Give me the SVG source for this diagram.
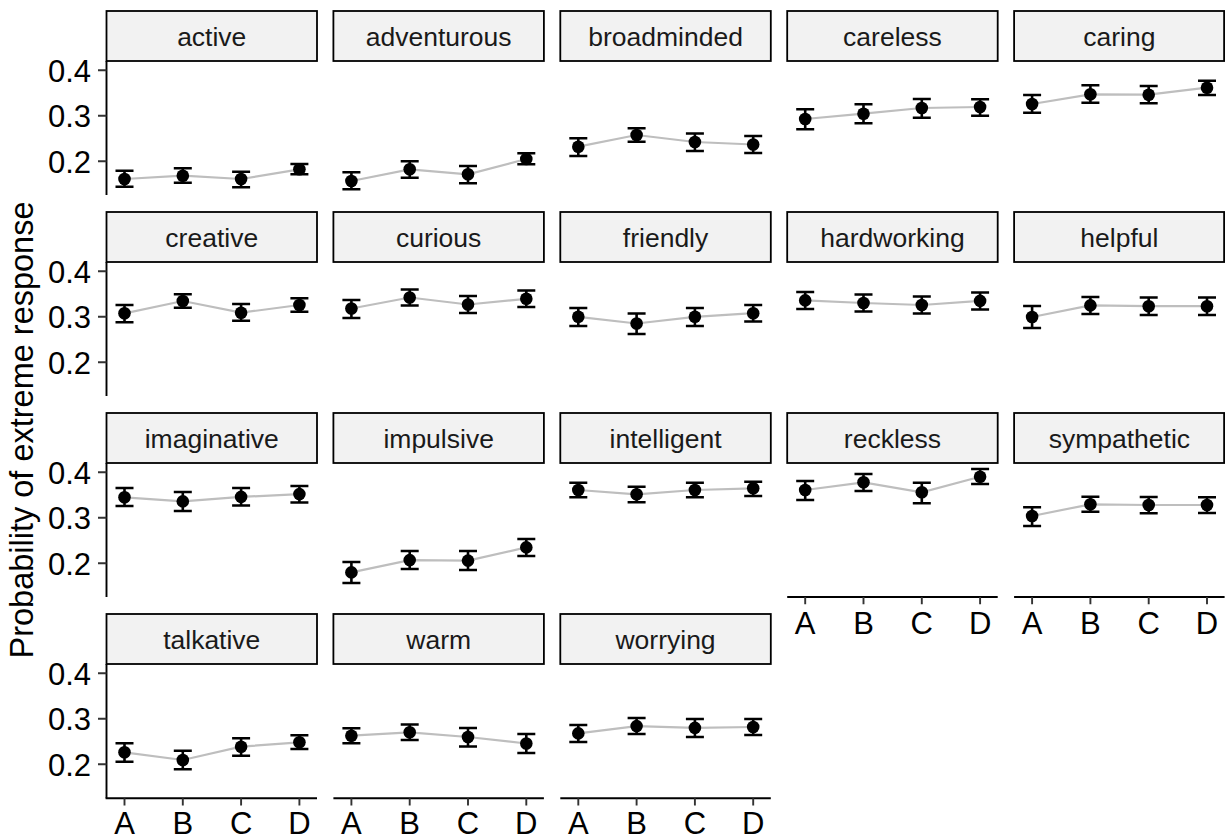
<svg xmlns="http://www.w3.org/2000/svg" width="1225" height="837" viewBox="0 0 1225 837">
  <style>
    text { font-family: "Liberation Sans", Arial, Helvetica, sans-serif; }
    .strip rect { fill: #F2F2F2; stroke: #000; stroke-width: 1.8; }
    .strip text { font-size: 26.5px; fill: #1A1A1A; text-anchor: middle; }
    .trend { fill: none; stroke: #BEBEBE; stroke-width: 2.2; }
    .err { fill: none; stroke: #000; stroke-width: 2.6; }
    .pt { fill: #000; }
    .axis { fill: none; stroke: #000; stroke-width: 1.9; }
    .tick { fill: none; stroke: #333; stroke-width: 1.9; }
    .ylab { font-size: 31px; fill: #000; text-anchor: end; }
    .xlab { font-size: 31px; fill: #000; text-anchor: middle; }
    .title { font-size: 32.5px; fill: #000; text-anchor: middle; }
  </style>

  <!-- shared y-axis title -->
  <text class="title" transform="translate(33,430) rotate(-90)">Probability of extreme response</text>

  <!-- y axes (first column only) -->
  <g id="y-axes">
    <path class="axis" d="M106.5 61 V195 M106.5 262 V396 M106.5 463 V597 M106.5 664 V798.3"/>
    <path class="tick" d="M98 70.3 H106.5 M98 115.8 H106.5 M98 161.3 H106.5
                          M98 271.3 H106.5 M98 316.8 H106.5 M98 362.3 H106.5
                          M98 472.3 H106.5 M98 517.8 H106.5 M98 563.3 H106.5
                          M98 673.3 H106.5 M98 718.8 H106.5 M98 764.3 H106.5"/>
    <text class="ylab" x="91" y="81.5">0.4</text>
    <text class="ylab" x="91" y="127">0.3</text>
    <text class="ylab" x="91" y="172.5">0.2</text>
    <text class="ylab" x="91" y="282.5">0.4</text>
    <text class="ylab" x="91" y="328">0.3</text>
    <text class="ylab" x="91" y="373.5">0.2</text>
    <text class="ylab" x="91" y="483.5">0.4</text>
    <text class="ylab" x="91" y="529">0.3</text>
    <text class="ylab" x="91" y="574.5">0.2</text>
    <text class="ylab" x="91" y="684.5">0.4</text>
    <text class="ylab" x="91" y="730">0.3</text>
    <text class="ylab" x="91" y="775.5">0.2</text>
  </g>

  <!-- x axes (bottom panel of each column) -->
  <g id="x-axes">
    <path class="axis" d="M105.6 798.3 H317 M333.4 798.3 H543.9 M560.3 798.3 H770.8 M787.2 597 H997.7 M1014.1 597 H1224.6"/>
    <path class="tick" d="M124.5 798.3 V805.5 M182.8 798.3 V805.5 M241.1 798.3 V805.5 M299.4 798.3 V805.5
                          M351.4 798.3 V805.5 M409.7 798.3 V805.5 M468 798.3 V805.5 M526.3 798.3 V805.5
                          M578.3 798.3 V805.5 M636.6 798.3 V805.5 M694.9 798.3 V805.5 M753.2 798.3 V805.5
                          M805.2 597 V604.2 M863.5 597 V604.2 M921.8 597 V604.2 M980.1 597 V604.2
                          M1032.1 597 V604.2 M1090.4 597 V604.2 M1148.7 597 V604.2 M1207 597 V604.2"/>
    <text class="xlab" x="124.5" y="834">A</text><text class="xlab" x="182.8" y="834">B</text><text class="xlab" x="241.1" y="834">C</text><text class="xlab" x="299.4" y="834">D</text>
    <text class="xlab" x="351.4" y="834">A</text><text class="xlab" x="409.7" y="834">B</text><text class="xlab" x="468" y="834">C</text><text class="xlab" x="526.3" y="834">D</text>
    <text class="xlab" x="578.3" y="834">A</text><text class="xlab" x="636.6" y="834">B</text><text class="xlab" x="694.9" y="834">C</text><text class="xlab" x="753.2" y="834">D</text>
    <text class="xlab" x="805.2" y="633.5">A</text><text class="xlab" x="863.5" y="633.5">B</text><text class="xlab" x="921.8" y="633.5">C</text><text class="xlab" x="980.1" y="633.5">D</text>
    <text class="xlab" x="1032.1" y="633.5">A</text><text class="xlab" x="1090.4" y="633.5">B</text><text class="xlab" x="1148.7" y="633.5">C</text><text class="xlab" x="1207" y="633.5">D</text>
  </g>

  <!-- row 1 -->
  <g id="panel-active">
    <g class="strip"><rect x="106.5" y="11" width="210.5" height="50"/><text x="211.75" y="46">active</text></g>
    <polyline class="trend" points="124.5,179 182.8,175.7 241.1,179 299.4,169.3"/>
    <path class="err" d="M115.5 170.7 H133.5 M124.5 170.7 V186.7 M115.5 186.7 H133.5
                         M173.8 168.3 H191.8 M182.8 168.3 V182.7 M173.8 182.7 H191.8
                         M232.1 171.7 H250.1 M241.1 171.7 V187.3 M232.1 187.3 H250.1
                         M290.4 164 H308.4 M299.4 164 V174.3 M290.4 174.3 H308.4"/>
    <circle class="pt" cx="124.5" cy="179" r="6.3"/><circle class="pt" cx="182.8" cy="175.7" r="6.3"/><circle class="pt" cx="241.1" cy="179" r="6.3"/><circle class="pt" cx="299.4" cy="169.3" r="6.3"/>
  </g>
  <g id="panel-adventurous">
    <g class="strip"><rect x="333.4" y="11" width="210.5" height="50"/><text x="438.65" y="46">adventurous</text></g>
    <polyline class="trend" points="351.4,181 409.7,169.3 468,174.3 526.3,159"/>
    <path class="err" d="M342.4 172.3 H360.4 M351.4 172.3 V189.3 M342.4 189.3 H360.4
                         M400.7 161.3 H418.7 M409.7 161.3 V177.7 M400.7 177.7 H418.7
                         M459 166 H477 M468 166 V183.3 M459 183.3 H477
                         M517.3 153.3 H535.3 M526.3 153.3 V164.3 M517.3 164.3 H535.3"/>
    <circle class="pt" cx="351.4" cy="181" r="6.3"/><circle class="pt" cx="409.7" cy="169.3" r="6.3"/><circle class="pt" cx="468" cy="174.3" r="6.3"/><circle class="pt" cx="526.3" cy="159" r="6.3"/>
  </g>
  <g id="panel-broadminded">
    <g class="strip"><rect x="560.3" y="11" width="210.5" height="50"/><text x="665.55" y="46">broadminded</text></g>
    <polyline class="trend" points="578.3,146.7 636.6,135 694.9,142 753.2,144.5"/>
    <path class="err" d="M569.3 138.3 H587.3 M578.3 138.3 V156 M569.3 156 H587.3
                         M627.6 128.3 H645.6 M636.6 128.3 V141.7 M627.6 141.7 H645.6
                         M685.9 133.5 H703.9 M694.9 133.5 V151 M685.9 151 H703.9
                         M744.2 136 H762.2 M753.2 136 V153 M744.2 153 H762.2"/>
    <circle class="pt" cx="578.3" cy="146.7" r="6.3"/><circle class="pt" cx="636.6" cy="135" r="6.3"/><circle class="pt" cx="694.9" cy="142" r="6.3"/><circle class="pt" cx="753.2" cy="144.5" r="6.3"/>
  </g>
  <g id="panel-careless">
    <g class="strip"><rect x="787.2" y="11" width="210.5" height="50"/><text x="892.45" y="46">careless</text></g>
    <polyline class="trend" points="805.2,119 863.5,113.7 921.8,108 980.1,107"/>
    <path class="err" d="M796.2 109.3 H814.2 M805.2 109.3 V129.3 M796.2 129.3 H814.2
                         M854.5 104.3 H872.5 M863.5 104.3 V123.3 M854.5 123.3 H872.5
                         M912.8 99 H930.8 M921.8 99 V117.7 M912.8 117.7 H930.8
                         M971.1 99.3 H989.1 M980.1 99.3 V115.7 M971.1 115.7 H989.1"/>
    <circle class="pt" cx="805.2" cy="119" r="6.3"/><circle class="pt" cx="863.5" cy="113.7" r="6.3"/><circle class="pt" cx="921.8" cy="108" r="6.3"/><circle class="pt" cx="980.1" cy="107" r="6.3"/>
  </g>
  <g id="panel-caring">
    <g class="strip"><rect x="1014.1" y="11" width="210" height="50"/><text x="1119.35" y="46">caring</text></g>
    <polyline class="trend" points="1032.1,104 1090.4,94.3 1148.7,94.7 1207,87.7"/>
    <path class="err" d="M1023.1 95 H1041.1 M1032.1 95 V112.7 M1023.1 112.7 H1041.1
                         M1081.4 85.3 H1099.4 M1090.4 85.3 V102.7 M1081.4 102.7 H1099.4
                         M1139.7 86 H1157.7 M1148.7 86 V103.3 M1139.7 103.3 H1157.7
                         M1198 80.7 H1216 M1207 80.7 V95 M1198 95 H1216"/>
    <circle class="pt" cx="1032.1" cy="104" r="6.3"/><circle class="pt" cx="1090.4" cy="94.3" r="6.3"/><circle class="pt" cx="1148.7" cy="94.7" r="6.3"/><circle class="pt" cx="1207" cy="87.7" r="6.3"/>
  </g>

  <!-- row 2 -->
  <g id="panel-creative">
    <g class="strip"><rect x="106.5" y="212" width="210.5" height="50"/><text x="211.75" y="247">creative</text></g>
    <polyline class="trend" points="124.5,313.3 182.8,301 241.1,312.7 299.4,305"/>
    <path class="err" d="M115.5 305 H133.5 M124.5 305 V322.3 M115.5 322.3 H133.5
                         M173.8 294.3 H191.8 M182.8 294.3 V307.7 M173.8 307.7 H191.8
                         M232.1 304 H250.1 M241.1 304 V320.7 M232.1 320.7 H250.1
                         M290.4 298.3 H308.4 M299.4 298.3 V311.7 M290.4 311.7 H308.4"/>
    <circle class="pt" cx="124.5" cy="313.3" r="6.3"/><circle class="pt" cx="182.8" cy="301" r="6.3"/><circle class="pt" cx="241.1" cy="312.7" r="6.3"/><circle class="pt" cx="299.4" cy="305" r="6.3"/>
  </g>
  <g id="panel-curious">
    <g class="strip"><rect x="333.4" y="212" width="210.5" height="50"/><text x="438.65" y="247">curious</text></g>
    <polyline class="trend" points="351.4,308.5 409.7,297.5 468,304.5 526.3,298.8"/>
    <path class="err" d="M342.4 300 H360.4 M351.4 300 V318 M342.4 318 H360.4
                         M400.7 289.5 H418.7 M409.7 289.5 V305.5 M400.7 305.5 H418.7
                         M459 296 H477 M468 296 V313 M459 313 H477
                         M517.3 290.5 H535.3 M526.3 290.5 V307 M517.3 307 H535.3"/>
    <circle class="pt" cx="351.4" cy="308.5" r="6.3"/><circle class="pt" cx="409.7" cy="297.5" r="6.3"/><circle class="pt" cx="468" cy="304.5" r="6.3"/><circle class="pt" cx="526.3" cy="298.8" r="6.3"/>
  </g>
  <g id="panel-friendly">
    <g class="strip"><rect x="560.3" y="212" width="210.5" height="50"/><text x="665.55" y="247">friendly</text></g>
    <polyline class="trend" points="578.3,316.8 636.6,323.5 694.9,316.8 753.2,313.2"/>
    <path class="err" d="M569.3 308 H587.3 M578.3 308 V326 M569.3 326 H587.3
                         M627.6 313.5 H645.6 M636.6 313.5 V334 M627.6 334 H645.6
                         M685.9 308 H703.9 M694.9 308 V326 M685.9 326 H703.9
                         M744.2 305 H762.2 M753.2 305 V321.5 M744.2 321.5 H762.2"/>
    <circle class="pt" cx="578.3" cy="316.8" r="6.3"/><circle class="pt" cx="636.6" cy="323.5" r="6.3"/><circle class="pt" cx="694.9" cy="316.8" r="6.3"/><circle class="pt" cx="753.2" cy="313.2" r="6.3"/>
  </g>
  <g id="panel-hardworking">
    <g class="strip"><rect x="787.2" y="212" width="210.5" height="50"/><text x="892.45" y="247">hardworking</text></g>
    <polyline class="trend" points="805.2,300.4 863.5,303 921.8,305 980.1,300.9"/>
    <path class="err" d="M796.2 292 H814.2 M805.2 292 V309 M796.2 309 H814.2
                         M854.5 294.5 H872.5 M863.5 294.5 V311.5 M854.5 311.5 H872.5
                         M912.8 296.5 H930.8 M921.8 296.5 V313.5 M912.8 313.5 H930.8
                         M971.1 292.5 H989.1 M980.1 292.5 V309.5 M971.1 309.5 H989.1"/>
    <circle class="pt" cx="805.2" cy="300.4" r="6.3"/><circle class="pt" cx="863.5" cy="303" r="6.3"/><circle class="pt" cx="921.8" cy="305" r="6.3"/><circle class="pt" cx="980.1" cy="300.9" r="6.3"/>
  </g>
  <g id="panel-helpful">
    <g class="strip"><rect x="1014.1" y="212" width="210" height="50"/><text x="1119.35" y="247">helpful</text></g>
    <polyline class="trend" points="1032.1,317 1090.4,305.4 1148.7,306.2 1207,306.2"/>
    <path class="err" d="M1023.1 306 H1041.1 M1032.1 306 V328 M1023.1 328 H1041.1
                         M1081.4 297 H1099.4 M1090.4 297 V314 M1081.4 314 H1099.4
                         M1139.7 297.5 H1157.7 M1148.7 297.5 V315 M1139.7 315 H1157.7
                         M1198 297.5 H1216 M1207 297.5 V315 M1198 315 H1216"/>
    <circle class="pt" cx="1032.1" cy="317" r="6.3"/><circle class="pt" cx="1090.4" cy="305.4" r="6.3"/><circle class="pt" cx="1148.7" cy="306.2" r="6.3"/><circle class="pt" cx="1207" cy="306.2" r="6.3"/>
  </g>

  <!-- row 3 -->
  <g id="panel-imaginative">
    <g class="strip"><rect x="106.5" y="413" width="210.5" height="50"/><text x="211.75" y="448">imaginative</text></g>
    <polyline class="trend" points="124.5,497.3 182.8,501.4 241.1,496.9 299.4,494.1"/>
    <path class="err" d="M115.5 488 H133.5 M124.5 488 V506 M115.5 506 H133.5
                         M173.8 492 H191.8 M182.8 492 V511 M173.8 511 H191.8
                         M232.1 488 H250.1 M241.1 488 V505.5 M232.1 505.5 H250.1
                         M290.4 486 H308.4 M299.4 486 V502.5 M290.4 502.5 H308.4"/>
    <circle class="pt" cx="124.5" cy="497.3" r="6.3"/><circle class="pt" cx="182.8" cy="501.4" r="6.3"/><circle class="pt" cx="241.1" cy="496.9" r="6.3"/><circle class="pt" cx="299.4" cy="494.1" r="6.3"/>
  </g>
  <g id="panel-impulsive">
    <g class="strip"><rect x="333.4" y="413" width="210.5" height="50"/><text x="438.65" y="448">impulsive</text></g>
    <polyline class="trend" points="351.4,572.4 409.7,560.1 468,560.6 526.3,547.4"/>
    <path class="err" d="M342.4 562 H360.4 M351.4 562 V583 M342.4 583 H360.4
                         M400.7 551 H418.7 M409.7 551 V569 M400.7 569 H418.7
                         M459 551 H477 M468 551 V570 M459 570 H477
                         M517.3 539 H535.3 M526.3 539 V556 M517.3 556 H535.3"/>
    <circle class="pt" cx="351.4" cy="572.4" r="6.3"/><circle class="pt" cx="409.7" cy="560.1" r="6.3"/><circle class="pt" cx="468" cy="560.6" r="6.3"/><circle class="pt" cx="526.3" cy="547.4" r="6.3"/>
  </g>
  <g id="panel-intelligent">
    <g class="strip"><rect x="560.3" y="413" width="210.5" height="50"/><text x="665.55" y="448">intelligent</text></g>
    <polyline class="trend" points="578.3,490 636.6,494.3 694.9,490 753.2,488.3"/>
    <path class="err" d="M569.3 482.7 H587.3 M578.3 482.7 V497.3 M569.3 497.3 H587.3
                         M627.6 486.7 H645.6 M636.6 486.7 V502.3 M627.6 502.3 H645.6
                         M685.9 482.7 H703.9 M694.9 482.7 V497.3 M685.9 497.3 H703.9
                         M744.2 481.7 H762.2 M753.2 481.7 V496 M744.2 496 H762.2"/>
    <circle class="pt" cx="578.3" cy="490" r="6.3"/><circle class="pt" cx="636.6" cy="494.3" r="6.3"/><circle class="pt" cx="694.9" cy="490" r="6.3"/><circle class="pt" cx="753.2" cy="488.3" r="6.3"/>
  </g>
  <g id="panel-reckless">
    <g class="strip"><rect x="787.2" y="413" width="210.5" height="50"/><text x="892.45" y="448">reckless</text></g>
    <polyline class="trend" points="805.2,490 863.5,482.3 921.8,492.3 980.1,476.7"/>
    <path class="err" d="M796.2 481 H814.2 M805.2 481 V500 M796.2 500 H814.2
                         M854.5 474 H872.5 M863.5 474 V491 M854.5 491 H872.5
                         M912.8 482.7 H930.8 M921.8 482.7 V503.3 M912.8 503.3 H930.8
                         M971.1 469 H989.1 M980.1 469 V484 M971.1 484 H989.1"/>
    <circle class="pt" cx="805.2" cy="490" r="6.3"/><circle class="pt" cx="863.5" cy="482.3" r="6.3"/><circle class="pt" cx="921.8" cy="492.3" r="6.3"/><circle class="pt" cx="980.1" cy="476.7" r="6.3"/>
  </g>
  <g id="panel-sympathetic">
    <g class="strip"><rect x="1014.1" y="413" width="210" height="50"/><text x="1119.35" y="448">sympathetic</text></g>
    <polyline class="trend" points="1032.1,516 1090.4,504.3 1148.7,505 1207,505"/>
    <path class="err" d="M1023.1 507.3 H1041.1 M1032.1 507.3 V526 M1023.1 526 H1041.1
                         M1081.4 496.7 H1099.4 M1090.4 496.7 V511.7 M1081.4 511.7 H1099.4
                         M1139.7 497 H1157.7 M1148.7 497 V513.3 M1139.7 513.3 H1157.7
                         M1198 497.3 H1216 M1207 497.3 V513 M1198 513 H1216"/>
    <circle class="pt" cx="1032.1" cy="516" r="6.3"/><circle class="pt" cx="1090.4" cy="504.3" r="6.3"/><circle class="pt" cx="1148.7" cy="505" r="6.3"/><circle class="pt" cx="1207" cy="505" r="6.3"/>
  </g>

  <!-- row 4 -->
  <g id="panel-talkative">
    <g class="strip"><rect x="106.5" y="614" width="210.5" height="50"/><text x="211.75" y="649">talkative</text></g>
    <polyline class="trend" points="124.5,752.3 182.8,760 241.1,746.7 299.4,742.3"/>
    <path class="err" d="M115.5 743.3 H133.5 M124.5 743.3 V761.7 M115.5 761.7 H133.5
                         M173.8 750.7 H191.8 M182.8 750.7 V769.3 M173.8 769.3 H191.8
                         M232.1 738.3 H250.1 M241.1 738.3 V755.7 M232.1 755.7 H250.1
                         M290.4 735.3 H308.4 M299.4 735.3 V749 M290.4 749 H308.4"/>
    <circle class="pt" cx="124.5" cy="752.3" r="6.3"/><circle class="pt" cx="182.8" cy="760" r="6.3"/><circle class="pt" cx="241.1" cy="746.7" r="6.3"/><circle class="pt" cx="299.4" cy="742.3" r="6.3"/>
  </g>
  <g id="panel-warm">
    <g class="strip"><rect x="333.4" y="614" width="210.5" height="50"/><text x="438.65" y="649">warm</text></g>
    <polyline class="trend" points="351.4,735.7 409.7,732.3 468,737 526.3,743.5"/>
    <path class="err" d="M342.4 728.3 H360.4 M351.4 728.3 V743.3 M342.4 743.3 H360.4
                         M400.7 724.5 H418.7 M409.7 724.5 V740 M400.7 740 H418.7
                         M459 728 H477 M468 728 V746.5 M459 746.5 H477
                         M517.3 734 H535.3 M526.3 734 V753 M517.3 753 H535.3"/>
    <circle class="pt" cx="351.4" cy="735.7" r="6.3"/><circle class="pt" cx="409.7" cy="732.3" r="6.3"/><circle class="pt" cx="468" cy="737" r="6.3"/><circle class="pt" cx="526.3" cy="743.5" r="6.3"/>
  </g>
  <g id="panel-worrying">
    <g class="strip"><rect x="560.3" y="614" width="210.5" height="50"/><text x="665.55" y="649">worrying</text></g>
    <polyline class="trend" points="578.3,733.4 636.6,726.1 694.9,727.9 753.2,727"/>
    <path class="err" d="M569.3 725 H587.3 M578.3 725 V742 M569.3 742 H587.3
                         M627.6 718 H645.6 M636.6 718 V734 M627.6 734 H645.6
                         M685.9 719 H703.9 M694.9 719 V737 M685.9 737 H703.9
                         M744.2 719 H762.2 M753.2 719 V735 M744.2 735 H762.2"/>
    <circle class="pt" cx="578.3" cy="733.4" r="6.3"/><circle class="pt" cx="636.6" cy="726.1" r="6.3"/><circle class="pt" cx="694.9" cy="727.9" r="6.3"/><circle class="pt" cx="753.2" cy="727" r="6.3"/>
  </g>
</svg>
